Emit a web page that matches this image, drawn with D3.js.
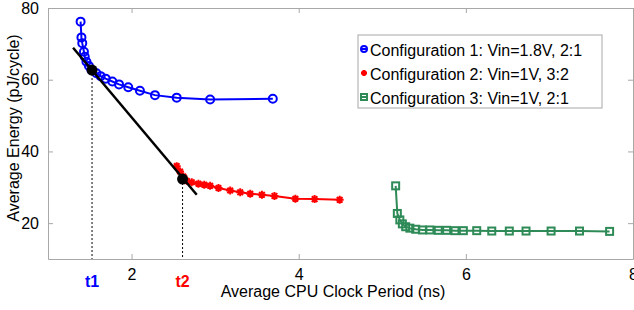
<!DOCTYPE html>
<html>
<head>
<meta charset="utf-8">
<script src="https://cdn.jsdelivr.net/npm/d3@7"></script>
<style>
  body { margin: 0; background: #fff; }
  text { font-family: "Liberation Sans", Arial, sans-serif; }
</style>
</head>
<body>
<div id="chart"></div>
<script>
// data
var c1x = [1.39,1.40,1.41,1.43,1.44,1.46,1.49,1.52,1.58,1.63,1.69,1.77,1.85,1.96,2.10,2.28,2.54,2.94,3.69];
var c1y = [76.2,71.8,70.2,67.8,66.4,65.0,63.8,62.7,61.8,61.0,60.3,59.5,58.7,57.9,56.9,55.7,55.0,54.5,54.7];
var c2x = [2.54,2.58,2.62,2.66,2.72,2.80,2.87,2.94,3.04,3.18,3.30,3.42,3.56,3.71,3.96,4.19,4.49];
var c2y = [35.9,34.4,33.0,31.8,31.4,31.0,30.7,30.4,29.8,29.1,28.6,28.2,27.9,27.6,26.8,26.7,26.5];
var c3x = [5.16,5.18,5.21,5.24,5.28,5.33,5.40,5.48,5.57,5.67,5.77,5.87,5.97,6.13,6.31,6.52,6.72,7.02,7.36,7.72];
var c3y = [30.4,22.7,20.9,19.8,19.0,18.6,18.3,18.1,18.1,18.0,18.0,17.9,17.9,17.9,17.8,17.8,17.8,17.8,17.8,17.7];
var lineX = [1.30, 2.78];
var lineY = [68.9, 27.9];
var dotX = [1.527, 2.61];
var dotY = [62.7, 32.3];
var dotLabels = ["t1", "t2"];
var xTicks = [2, 4, 6, 8];
var yTicks = [20, 40, 60, 80];
var seriesNames = ["Configuration 1: Vin=1.8V, 2:1", "Configuration 2: Vin=1V, 3:2", "Configuration 3: Vin=1V, 2:1"];

var W = 634, H = 310;
var margin = {top: 8, right: 1, bottom: 51, left: 48},
    width = W - margin.left - margin.right,
    height = H - margin.top - margin.bottom;

var svg = d3.select("#chart").append("svg")
    .attr("width", W)
    .attr("height", H)
  .append("g")
    .attr("transform", "translate(" + margin.left + "," + margin.top + ")");

var x = d3.scaleLinear().domain([1, 8]).range([0, width]);
var y = d3.scaleLinear().domain([10, 80]).range([height, 0]);

var frame = "#a8a8a8";

// axes frame with inward ticks
function styleAxis(g) {
  g.select(".domain").attr("stroke", frame);
  g.selectAll(".tick line").attr("stroke", frame);
  g.selectAll(".tick text").attr("fill", "#000").style("font-size", "16px")
    .attr("font-family", "Liberation Sans, Arial, sans-serif");
}
svg.append("g")
    .attr("transform", "translate(0," + height + ")")
    .call(d3.axisBottom(x).tickValues(xTicks).tickSizeInner(-5).tickSizeOuter(0).tickPadding(10).tickFormat(d3.format("d")))
    .call(styleAxis);
svg.append("g")
    .call(d3.axisTop(x).tickValues(xTicks).tickSizeInner(-5).tickSizeOuter(0).tickFormat(""))
    .call(styleAxis);
svg.append("g")
    .call(d3.axisLeft(y).tickValues(yTicks).tickSizeInner(-5).tickSizeOuter(0).tickPadding(9).tickFormat(d3.format("d")))
    .call(styleAxis);
svg.append("g")
    .attr("transform", "translate(" + width + ",0)")
    .call(d3.axisRight(y).tickValues(yTicks).tickSizeInner(-5).tickSizeOuter(0).tickFormat(""))
    .call(styleAxis);

// axis labels
svg.append("text")
    .attr("x", 285)
    .attr("y", height + 38)
    .attr("text-anchor", "middle")
    .style("font-size", "16px")
    .text("Average CPU Clock Period (ns)");
svg.append("text")
    .attr("transform", "rotate(-90)")
    .attr("x", -120)
    .attr("y", -35)
    .attr("dy", "0.35em")
    .attr("text-anchor", "middle")
    .style("font-size", "16px")
    .text("Average Energy (pJ/cycle)");

// marker painters
function circleMark(g, c, r) {
  r = r || 4;
  g.append("circle").attr("r", r).attr("fill", "none").attr("stroke", c).attr("stroke-width", 2);
}
function starMark(g, c, r) {
  var s = r || 4;
  g.append("path")
    .attr("d", "M" + (-s) + ",0L" + s + ",0M0," + (-s) + "L0," + s +
               "M" + (-s*0.7) + "," + (-s*0.7) + "L" + (s*0.7) + "," + (s*0.7) +
               "M" + (-s*0.7) + "," + (s*0.7) + "L" + (s*0.7) + "," + (-s*0.7))
    .attr("stroke", c).attr("stroke-width", 2).attr("fill", "none");
}
function squareMark(g, c, r) {
  r = r || 3.5;
  g.append("rect").attr("x", -r).attr("y", -r).attr("width", 2 * r).attr("height", 2 * r)
    .attr("fill", "none").attr("stroke", c).attr("stroke-width", 2);
}

var series = [
  {xs: c1x, ys: c1y, color: "#0000ff", mark: circleMark},
  {xs: c2x, ys: c2y, color: "#ff0000", mark: starMark},
  {xs: c3x, ys: c3y, color: "#2e8b57", mark: squareMark}
];

var line = d3.line().x(function(d) { return x(d[0]); }).y(function(d) { return y(d[1]); });

series.forEach(function(s) {
  var pts = s.xs.map(function(v, i) { return [v, s.ys[i]]; });
  svg.append("path")
    .datum(pts)
    .attr("d", line)
    .attr("fill", "none")
    .attr("stroke", s.color)
    .attr("stroke-width", 2);
  pts.forEach(function(p) {
    var g = svg.append("g").attr("transform", "translate(" + x(p[0]) + "," + y(p[1]) + ")");
    s.mark(g, s.color);
  });
});

// tangent line
svg.append("path")
  .datum(lineX.map(function(v, i) { return [v, lineY[i]]; }))
  .attr("d", line)
  .attr("stroke", "#000")
  .attr("stroke-width", 2.5)
  .attr("fill", "none");

// operating points with dashed drop lines
var labelColors = ["#0000ff", "#ff0000"];
dotX.forEach(function(v, i) {
  svg.append("line")
    .attr("x1", x(v)).attr("x2", x(v))
    .attr("y1", y(dotY[i])).attr("y2", height)
    .attr("stroke", "#000")
    .attr("stroke-width", 1)
    .attr("stroke-dasharray", "2,2");
  svg.append("circle")
    .attr("cx", x(v)).attr("cy", y(dotY[i]))
    .attr("r", 5.5)
    .attr("fill", "#000");
  svg.append("text")
    .attr("x", x(v))
    .attr("y", height + 28)
    .attr("text-anchor", "middle")
    .style("font-size", "16px")
    .style("font-weight", "bold")
    .attr("fill", labelColors[i])
    .text(dotLabels[i]);
});

// legend
var lg = svg.append("g").attr("transform", "translate(" + (358 - margin.left) + "," + (35 - margin.top) + ")");
lg.append("rect")
  .attr("width", 244).attr("height", 73)
  .attr("fill", "#fff").attr("stroke", frame).attr("stroke-width", 1);
seriesNames.forEach(function(name, i) {
  var row = lg.append("g").attr("transform", "translate(0," + (15 + i * 24) + ")");
  var m = row.append("g").attr("transform", "translate(6,-1)");
  series[i].mark(m, series[i].color, 3);
  m.append("line").attr("x1", -3).attr("x2", 3).attr("stroke", series[i].color).attr("stroke-width", 2);
  row.append("text")
    .attr("x", 12)
    .attr("y", 0)
    .attr("dy", "0.35em")
    .style("font-size", "16px")
    .text(name);
});
</script>
</body>
</html>
